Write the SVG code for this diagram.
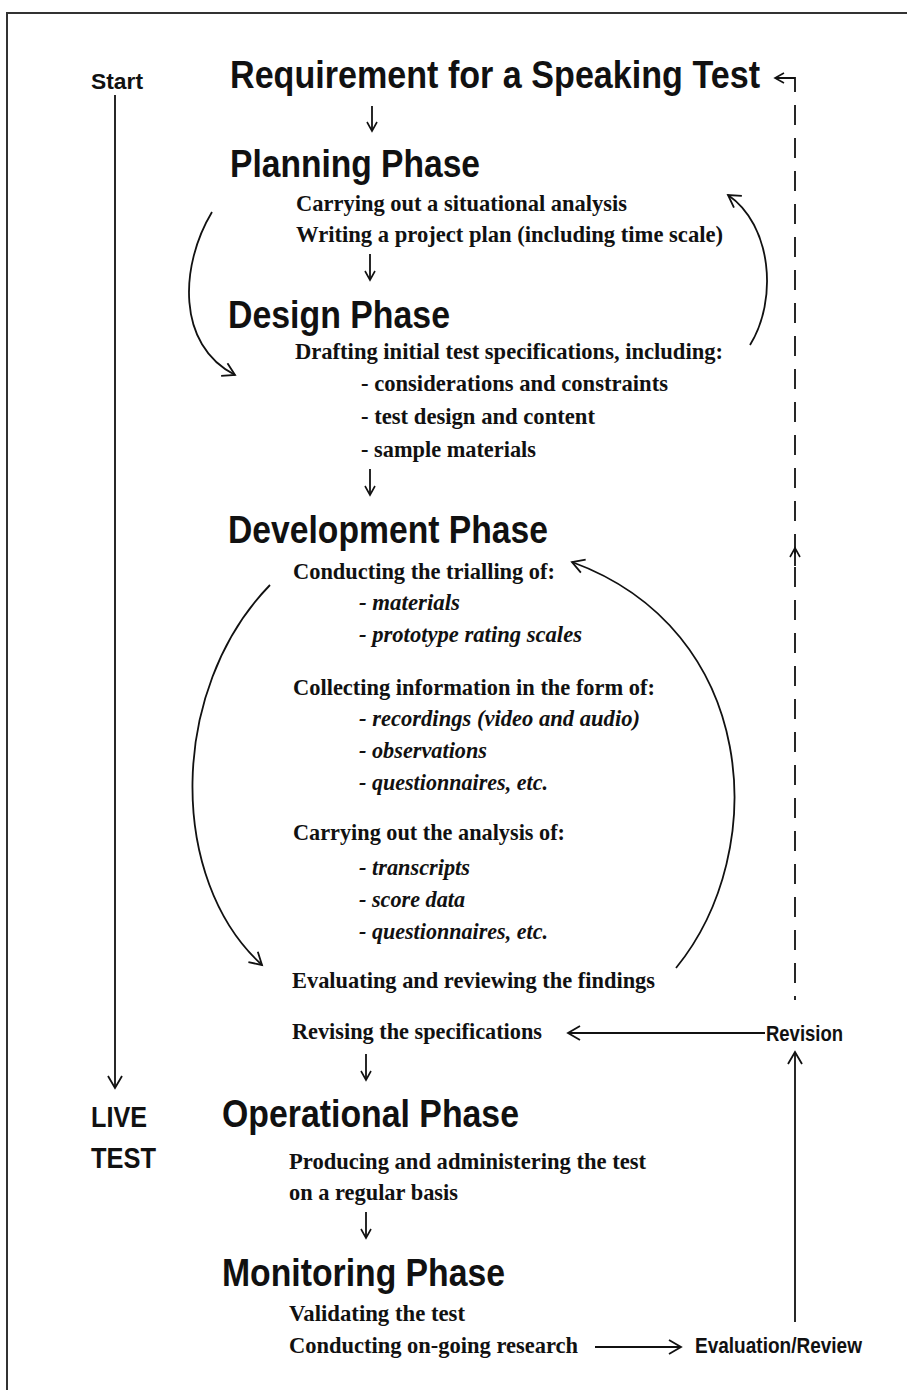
<svg xmlns="http://www.w3.org/2000/svg" width="907" height="1390" viewBox="0 0 907 1390">
<style>
.h{font-family:"Liberation Sans",Arial,sans-serif;font-weight:bold;font-size:39px;fill:#111}
.b{font-family:"Liberation Serif","Times New Roman",serif;font-weight:bold;font-size:24px;fill:#111}
.i{font-family:"Liberation Serif","Times New Roman",serif;font-weight:bold;font-style:italic;font-size:24px;fill:#111}
.s{font-family:"Liberation Sans",Arial,sans-serif;font-weight:bold;font-size:22px;fill:#111}
.t{font-family:"Liberation Sans",Arial,sans-serif;font-weight:bold;font-size:29px;fill:#111}
.l{fill:none;stroke:#111;stroke-width:1.8}
</style>
<defs>
<marker id="ah" markerUnits="userSpaceOnUse" markerWidth="18" markerHeight="18" refX="14" refY="8" orient="auto">
<path d="M2,1 L14,8 L2,15" fill="none" stroke="#111" stroke-width="1.8"/>
</marker>
<marker id="as" markerUnits="userSpaceOnUse" markerWidth="14" markerHeight="14" refX="11" refY="6" orient="auto">
<path d="M2,1 L11,6 L2,11" fill="none" stroke="#111" stroke-width="1.6"/>
</marker>
</defs>
<rect width="907" height="1390" fill="#fff"/>
<g id="frame"><path d="M7,1390 L7,13 L907,13" fill="none" stroke="#333" stroke-width="2"/></g>

<g id="connectors">
<line class="l" x1="115" y1="95" x2="115" y2="1088" marker-end="url(#ah)"/>
<line class="l" x1="372" y1="106" x2="372" y2="131" marker-end="url(#as)"/>
<line class="l" x1="370" y1="254" x2="370" y2="280" marker-end="url(#as)"/>
<line class="l" x1="370" y1="469" x2="370" y2="495" marker-end="url(#as)"/>
<line class="l" x1="366" y1="1054" x2="366" y2="1080" marker-end="url(#as)"/>
<line class="l" x1="366" y1="1212" x2="366" y2="1238" marker-end="url(#as)"/>
<path class="l" d="M212,212 C180,265 176,345 235,375" marker-end="url(#ah)"/>
<path class="l" d="M750,345 C778,300 772,225 728,195" marker-end="url(#ah)"/>
<path class="l" d="M270,585 C168,690 168,880 262,965" marker-end="url(#ah)"/>
<path class="l" d="M676,968 C772,850 758,630 572,562" marker-end="url(#ah)"/>
<path class="l" d="M795,92 L795,78 L775,78" marker-end="url(#as)"/>
<line class="l" x1="795" y1="105" x2="795" y2="1000" stroke-dasharray="20 13"/>
<line class="l" x1="795" y1="566" x2="795" y2="548" marker-end="url(#as)"/>
<line class="l" x1="765" y1="1033" x2="568" y2="1033" marker-end="url(#ah)"/>
<line class="l" x1="795" y1="1322" x2="795" y2="1052" marker-end="url(#ah)"/>
<line class="l" x1="595" y1="1347" x2="681" y2="1347" marker-end="url(#ah)"/>
</g>

<g id="start"><text class="s" x="91" y="89" textLength="52" lengthAdjust="spacingAndGlyphs">Start</text></g>
<g id="requirement"><text class="h" x="230" y="88" textLength="530" lengthAdjust="spacingAndGlyphs">Requirement for a Speaking Test</text></g>

<g id="planning">
<text class="h" x="230" y="177" textLength="250" lengthAdjust="spacingAndGlyphs">Planning Phase</text>
<text class="b" x="296" y="211" textLength="331" lengthAdjust="spacingAndGlyphs">Carrying out a situational analysis</text>
<text class="b" x="296" y="242" textLength="427" lengthAdjust="spacingAndGlyphs">Writing a project plan (including time scale)</text>
</g>

<g id="design">
<text class="h" x="228" y="328" textLength="222" lengthAdjust="spacingAndGlyphs">Design Phase</text>
<text class="b" x="295" y="359" textLength="428" lengthAdjust="spacingAndGlyphs">Drafting initial test specifications, including:</text>
<text class="b" x="361" y="391" textLength="307" lengthAdjust="spacingAndGlyphs">- considerations and constraints</text>
<text class="b" x="361" y="424" textLength="234" lengthAdjust="spacingAndGlyphs">- test design and content</text>
<text class="b" x="361" y="457" textLength="175" lengthAdjust="spacingAndGlyphs">- sample materials</text>
</g>

<g id="development">
<text class="h" x="228" y="543" textLength="320" lengthAdjust="spacingAndGlyphs">Development Phase</text>
<text class="b" x="293" y="579" textLength="262" lengthAdjust="spacingAndGlyphs">Conducting the trialling of:</text>
<text class="i" x="359" y="610" textLength="101" lengthAdjust="spacingAndGlyphs">- materials</text>
<text class="i" x="359" y="642" textLength="223" lengthAdjust="spacingAndGlyphs">- prototype rating scales</text>
<text class="b" x="293" y="695" textLength="362" lengthAdjust="spacingAndGlyphs">Collecting information in the form of:</text>
<text class="i" x="359" y="726" textLength="281" lengthAdjust="spacingAndGlyphs">- recordings (video and audio)</text>
<text class="i" x="359" y="758" textLength="128" lengthAdjust="spacingAndGlyphs">- observations</text>
<text class="i" x="359" y="790" textLength="189" lengthAdjust="spacingAndGlyphs">- questionnaires, etc.</text>
<text class="b" x="293" y="840" textLength="272" lengthAdjust="spacingAndGlyphs">Carrying out the analysis of:</text>
<text class="i" x="359" y="875" textLength="111" lengthAdjust="spacingAndGlyphs">- transcripts</text>
<text class="i" x="359" y="907" textLength="106" lengthAdjust="spacingAndGlyphs">- score data</text>
<text class="i" x="359" y="939" textLength="189" lengthAdjust="spacingAndGlyphs">- questionnaires, etc.</text>
<text class="b" x="292" y="988" textLength="363" lengthAdjust="spacingAndGlyphs">Evaluating and reviewing the findings</text>
<text class="b" x="292" y="1039" textLength="250" lengthAdjust="spacingAndGlyphs">Revising the specifications</text>
</g>

<g id="revision"><text class="s" x="766" y="1041" textLength="77" lengthAdjust="spacingAndGlyphs">Revision</text></g>

<g id="livetest">
<text class="t" x="91" y="1127" textLength="56" lengthAdjust="spacingAndGlyphs">LIVE</text>
<text class="t" x="91" y="1168" textLength="65" lengthAdjust="spacingAndGlyphs">TEST</text>
</g>

<g id="operational">
<text class="h" x="222" y="1127" textLength="297" lengthAdjust="spacingAndGlyphs">Operational Phase</text>
<text class="b" x="289" y="1169" textLength="357" lengthAdjust="spacingAndGlyphs">Producing and administering the test</text>
<text class="b" x="289" y="1200" textLength="169" lengthAdjust="spacingAndGlyphs">on a regular basis</text>
</g>

<g id="monitoring">
<text class="h" x="222" y="1286" textLength="283" lengthAdjust="spacingAndGlyphs">Monitoring Phase</text>
<text class="b" x="289" y="1321" textLength="176" lengthAdjust="spacingAndGlyphs">Validating the test</text>
<text class="b" x="289" y="1353" textLength="289" lengthAdjust="spacingAndGlyphs">Conducting on-going research</text>
</g>

<g id="evaluation"><text class="s" x="695" y="1353" textLength="167" lengthAdjust="spacingAndGlyphs">Evaluation/Review</text></g>
</svg>
